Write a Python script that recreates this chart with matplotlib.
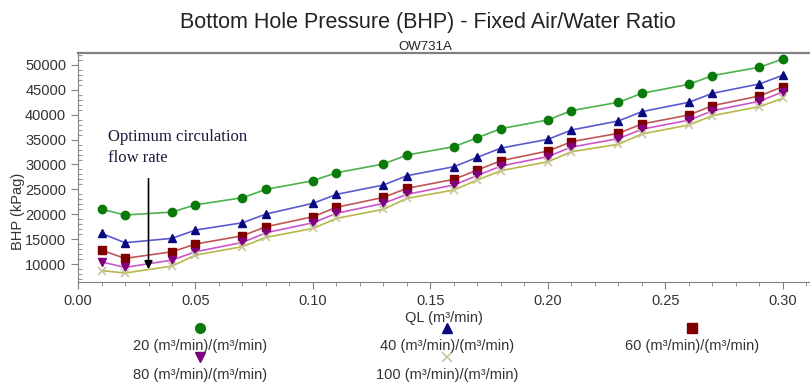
import numpy as np
import matplotlib
matplotlib.use('Agg')
from matplotlib import pyplot as plt
from matplotlib.ticker import MultipleLocator

# liquid flow rate QL (m3/min)
ql = [0.01, 0.02, 0.04, 0.05, 0.07, 0.08, 0.10, 0.11, 0.13, 0.14, 0.16,
      0.17, 0.18, 0.20, 0.21, 0.23, 0.24, 0.26, 0.27, 0.29, 0.30]

# bottom hole pressure (kPag) for each air/water ratio
bhp_20 = [21050, 19850, 20450, 21900, 23330, 25000, 26750, 28350, 30100, 31900, 33580,
          35390, 37200, 38950, 40820, 42500, 44300, 46110, 47850, 49530, 51200]
bhp_40 = [16170, 14290, 15170, 16830, 18300, 20050, 22200, 24000, 25880, 27750, 29560,
          31450, 33300, 35060, 36930, 38750, 40620, 42500, 44300, 46180, 47930]
bhp_60 = [12800, 11140, 12470, 14020, 15690, 17500, 19510, 21400, 23400, 25210, 27020,
          28900, 30770, 32700, 34580, 36270, 38140, 39950, 41820, 43770, 45640]
bhp_80 = [10450, 9330, 10800, 12470, 14360, 16290, 18300, 20200, 22200, 24000, 25900,
          27800, 29700, 31600, 33500, 35200, 37100, 38900, 40800, 42700, 44600]
bhp_100 = [8700, 8200, 9600, 11800, 13500, 15360, 17170, 19180, 21000, 23200, 24880,
           26900, 28760, 30560, 32570, 34060, 36130, 37940, 39810, 41620, 43300]

labels = ['20 (m³/min)/(m³/min)', '40 (m³/min)/(m³/min)', '60 (m³/min)/(m³/min)',
          '80 (m³/min)/(m³/min)', '100 (m³/min)/(m³/min)']
series = [bhp_20, bhp_40, bhp_60, bhp_80, bhp_100]
line_colors = ['#4cb24c', '#5a5ad0', '#c05555', '#cc55cc', '#b8b84a']
marker_colors = ['#0a7a0a', '#0a0a80', '#800000', '#800080', '#c8c8a0']
markers = ['o', '^', 's', 'v', 'x']

plt.rcParams['font.family'] = ['Liberation Sans', 'DejaVu Sans']

fig = plt.figure(figsize=(8.1, 3.83), dpi=100)
ax = fig.add_axes([0.0963, 0.2637, 0.9037, 0.598])

for y, lc, mc, mk in zip(series, line_colors, marker_colors, markers):
    ax.plot(ql, y, color=lc, lw=1.2, zorder=2)
    if mk == 'x':
        ax.plot(ql, y, ls='none', marker=mk, ms=6, mec=mc, mew=1.2, zorder=3)
    else:
        ax.plot(ql, y, ls='none', marker=mk, ms=6, mfc=mc, mec=mc, zorder=3)

ax.set_xlim(0, 0.3115)
ax.set_ylim(6400, 52400)
ax.xaxis.set_major_locator(MultipleLocator(0.05))
ax.xaxis.set_minor_locator(MultipleLocator(0.01))
ax.yaxis.set_major_locator(MultipleLocator(5000))
ax.yaxis.set_minor_locator(MultipleLocator(1000))
ax.xaxis.set_major_formatter(matplotlib.ticker.FormatStrFormatter('%.2f'))

for s in ['left', 'bottom', 'top']:
    ax.spines[s].set_color('#808080')
ax.spines['top'].set_linewidth(1.6)
ax.spines['right'].set_visible(False)
ax.tick_params(axis='both', which='major', direction='out', length=5, color='#808080',
               labelsize=10.5, labelcolor='#333333')
ax.tick_params(axis='x', which='minor', direction='out', length=3, color='#808080')
ax.tick_params(axis='y', which='minor', direction='in', length=3, color='#808080')
ax.set_xlabel('QL (m³/min)', fontsize=10.5, color='#333333', labelpad=2)
ax.set_ylabel('BHP (kPag)', fontsize=10.5, color='#333333')
ax.yaxis.set_label_coords(-0.073, 0.31)

# optimum flow rate annotation
ax.annotate('', xy=(0.03, 8400), xytext=(0.03, 27700),
            arrowprops=dict(arrowstyle='-|>', color='black', lw=1.2, mutation_scale=12))
ax.text(0.0128, 29600, 'Optimum circulation\nflow rate', family='Liberation Serif',
        fontsize=12, color='#1a1a3a', va='bottom', ha='left', linespacing=1.45)

fig.text(0.528, 0.94, 'Bottom Hole Pressure (BHP) - Fixed Air/Water Ratio',
         ha='center', va='center', fontsize=15.5, color='#222222')
fig.text(0.525, 0.878, 'OW731A', ha='center', va='center', fontsize=9.5, color='#222222')

# legend: marker above label, 3 columns
leg = fig.add_axes([0, 0, 1, 0.17])
leg.set_xlim(0, 810)
leg.set_ylim(65, 0)
leg.axis('off')
col_x = [200, 447, 692]
for i, (lab, mc, mk) in enumerate(zip(labels, marker_colors, markers)):
    cx = col_x[i % 3]
    row = i // 3
    my = 10 + row * 29
    ty = 28 + row * 29
    if mk == 'x':
        leg.plot(cx, my, marker=mk, ms=7, mec=mc, mew=1.2, ls='none')
    else:
        leg.plot(cx, my, marker=mk, ms=7, mfc=mc, mec=mc, ls='none')
    leg.text(cx, ty, lab, ha='center', va='center', fontsize=10.5, color='#333333')

fig.savefig('out.png', dpi=100)
